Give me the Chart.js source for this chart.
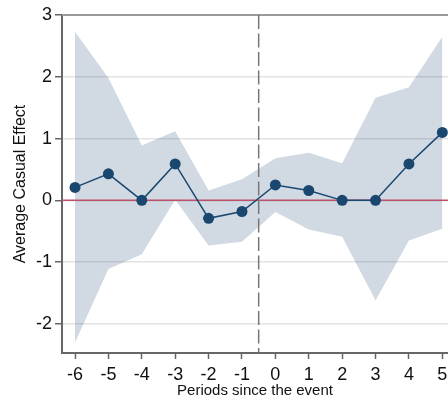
<!DOCTYPE html>
<html>
<head>
<meta charset="utf-8">
<script src="https://cdn.jsdelivr.net/npm/chart.js@4.4.1/dist/chart.umd.min.js"></script>
<style>
  html, body { margin: 0; padding: 0; background: #fff; }
  #wrap { width: 448px; height: 403px; }
</style>
</head>
<body>
<div id="wrap"><canvas id="c" width="448" height="403"></canvas></div>
<script>
// Event-study estimates by period relative to the event
const periods = [-6, -5, -4, -3, -2, -1, 0, 1, 2, 3, 4, 5];
const effect  = [0.21, 0.43, 0.00, 0.59, -0.29, -0.18, 0.25, 0.16, 0.00, 0.00, 0.59, 1.10];
const upperCI = [2.73, 1.98, 0.89, 1.12, 0.16, 0.34, 0.68, 0.77, 0.60, 1.66, 1.83, 2.65];
const lowerCI = [-2.30, -1.11, -0.87, 0.01, -0.73, -0.67, -0.19, -0.47, -0.59, -1.62, -0.65, -0.46];
const yTicks  = [-2, -1, 0, 1, 2, 3];
const eventLine = -0.5;

const navy = '#1a476f';
const FONT = 'Liberation Sans, Arial, sans-serif';
const pts = arr => arr.map((v, i) => ({ x: periods[i], y: v }));

// Reference lines: zero effect and the event date
const refLines = {
  id: 'refLines',
  afterDatasetDraw(chart, args) {
    if (args.index !== 1) return;
    const { ctx, chartArea: a, scales: { x, y } } = chart;
    ctx.save();
    const y0 = y.getPixelForValue(0);
    ctx.strokeStyle = '#c0506a';
    ctx.lineWidth = 1.5;
    ctx.beginPath();
    ctx.moveTo(a.left, y0);
    ctx.lineTo(a.right, y0);
    ctx.stroke();
    const xe = x.getPixelForValue(eventLine);
    ctx.strokeStyle = '#777';
    ctx.lineWidth = 1.5;
    ctx.setLineDash([14, 4.5]);
    ctx.beginPath();
    ctx.moveTo(xe, a.top);
    ctx.lineTo(xe, a.bottom);
    ctx.stroke();
    ctx.restore();
  }
};

// Frame line along the top of the plot region
const topFrame = {
  id: 'topFrame',
  beforeDatasetsDraw(chart) {
    const { ctx, chartArea: a } = chart;
    ctx.save();
    ctx.strokeStyle = '#9a9a9a';
    ctx.lineWidth = 2;
    ctx.beginPath();
    ctx.moveTo(a.left, a.top);
    ctx.lineTo(a.right, a.top);
    ctx.stroke();
    ctx.restore();
  }
};

new Chart(document.getElementById('c'), {
  type: 'line',
  data: {
    datasets: [
      {
        label: 'lower',
        data: pts(lowerCI),
        borderWidth: 0,
        pointRadius: 0,
        fill: false,
        tension: 0,
        order: 2
      },
      {
        label: 'upper',
        data: pts(upperCI),
        borderWidth: 0,
        pointRadius: 0,
        fill: '-1',
        backgroundColor: 'rgba(26,71,111,0.2)',
        tension: 0,
        order: 2
      },
      {
        label: 'effect',
        data: pts(effect),
        borderColor: navy,
        borderWidth: 1.5,
        pointRadius: 5.5,
        pointBackgroundColor: navy,
        pointBorderColor: navy,
        pointBorderWidth: 0,
        fill: false,
        tension: 0,
        clip: false,
        order: 0
      }
    ]
  },
  options: {
    responsive: false,
    devicePixelRatio: 1,
    animation: false,
    layout: { autoPadding: false, padding: { top: 15, left: 0, right: 0, bottom: 0 } },
    plugins: {
      legend: { display: false },
      tooltip: { enabled: false }
    },
    scales: {
      x: {
        type: 'linear',
        min: -6.39,
        max: 5.17,
        afterBuildTicks: s => { s.ticks = periods.map(v => ({ value: v })); },
        afterFit: s => {
          s.height = 50;
          s.paddingLeft = 0; s.paddingRight = 0;
        },
        grid: {
          drawOnChartArea: false,
          drawTicks: true,
          tickLength: 6,
          tickColor: '#666',
          tickWidth: 1.5
        },
        border: { display: true, color: '#666', width: 2 },
        ticks: {
          color: '#111',
          padding: 5,
          maxRotation: 0,
          font: { family: FONT, size: 18 }
        },
        title: {
          display: true,
          text: 'Periods since the event',
          color: '#111',
          font: { family: FONT, size: 15 },
          padding: { top: 0, bottom: 3 }
        }
      },
      y: {
        type: 'linear',
        min: -2.47,
        max: 3,
        afterBuildTicks: s => { s.ticks = yTicks.map(v => ({ value: v })); },
        afterFit: s => {
          s.width = 62;
          s.paddingTop = 0; s.paddingBottom = 0;
        },
        grid: {
          color: '#e3e3e3',
          lineWidth: 1.5,
          drawTicks: true,
          tickLength: 7,
          tickColor: '#666',
          tickWidth: 1.5
        },
        border: { display: true, color: '#666', width: 2 },
        ticks: {
          color: '#111',
          padding: 3,
          font: { family: FONT, size: 18 }
        },
        title: {
          display: true,
          text: 'Average Casual Effect',
          color: '#111',
          font: { family: FONT, size: 16 },
          padding: { top: 11, bottom: 0 }
        }
      }
    }
  },
  plugins: [topFrame, refLines]
});
</script>
</body>
</html>
